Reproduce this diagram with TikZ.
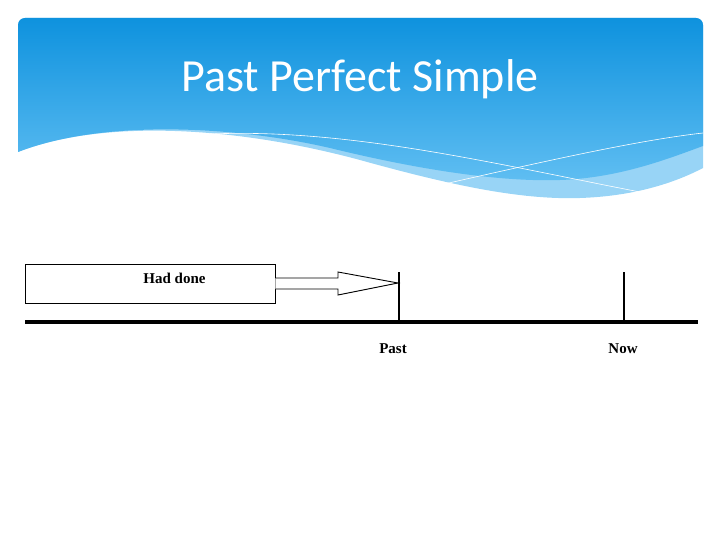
\documentclass[tikz,border=0pt]{standalone}
\usepackage{fontspec}
\newfontfamily\titlefont{Carlito}
\newfontfamily\timesfont{Liberation Serif}
\usetikzlibrary{positioning}
\definecolor{skytop}{RGB}{14,146,222}
\definecolor{skybot}{RGB}{96,190,242}
\definecolor{skylight}{RGB}{152,212,246}

\begin{document}
\begin{tikzpicture}[x=1pt,y=-1pt]

  \tikzset{main node/.style={rectangle, draw, line width=0.9pt,
  		minimum width=250pt, minimum height=39pt, inner sep=0pt}, }
  \tikzset{label text/.style={font=\timesfont\fontsize{15}{15}\selectfont\bfseries}, }
  \tikzset{tick/.style={line width=1.6pt}, }
  \tikzset{axis/.style={line width=4pt}, }
\useasboundingbox (0,0) rectangle (720,540);

% header with waves
\begin{scope}
\clip[rounded corners=7pt] (18,18) rectangle (703,260);
\fill[skylight] (18,18) -- (18,152)
  .. controls (100,120) and (230,125) .. (360,160)
  .. controls (450,185) and (520,200) .. (580,198)
  .. controls (640,196) and (680,180) .. (703,168) -- (703,18) -- cycle;
\shade[top color=skytop, bottom color=skybot] (18,18) -- (18,152)
  .. controls (100,120) and (230,125) .. (330,148)
  .. controls (420,170) and (500,182) .. (560,180)
  .. controls (620,178) and (670,158) .. (703,146) -- (703,18) -- cycle;
\draw[white, line width=0.6pt] (210,134) .. controls (350,128) and (500,165) .. (640,192);
\draw[white, line width=0.6pt] (440,185) .. controls (550,160) and (640,140) .. (703,133);
\end{scope}
\node[text=white, anchor=base, font=\titlefont\fontsize{46}{46}\selectfont] (title) at (360,92) {Past Perfect Simple};

% timeline
\coordinate (start) at (25,322);
\coordinate (end) at (698,322);
\coordinate (pastbase) at (399,322);
\coordinate (pasttop) at (399,272);
\coordinate (nowbase) at (624,322);
\coordinate (nowtop) at (624,272);
\coordinate (tip) at (398,283);

\node[main node, anchor=north west,
  label={[label text, xshift=24pt, yshift=5.5pt]center:Had done}] (had) at (25,264) {};
\draw[line width=0.9pt, fill=white] ([xshift=-0.6pt]had.east |- 0,278) -- (338,278) -- (338,272)
  -- (tip) -- (338,295) -- (338,289) -- ([xshift=-0.6pt]had.east |- 0,289);

\draw[axis] (start) -- (end);
\foreach \x in {past,now}
  \draw[tick] (\x base) -- (\x top);

\node[label text, below=18pt of pastbase, xshift=-6pt] (past) {Past};
\node[label text, below=18pt of nowbase, xshift=-1pt] (now) {Now};
\end{tikzpicture}
\end{document}
